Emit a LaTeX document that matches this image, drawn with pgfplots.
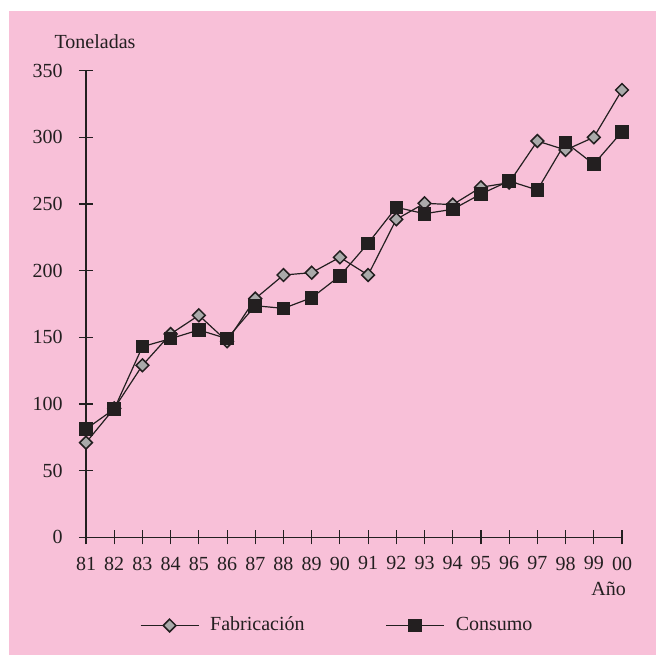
\documentclass[border=0pt]{standalone}
\usepackage{pgfplots}
\pgfplotsset{compat=1.18}
\usepackage{fontspec}
\setmainfont{Liberation Serif}
\definecolor{bgpink}{RGB}{248,192,216}
\definecolor{ink}{RGB}{35,31,32}
\definecolor{dgray}{RGB}{170,170,170}
\begin{document}
\begin{tikzpicture}
\fill[bgpink] (-38.5pt,-58.85pt) rectangle (285pt,263.15pt);
\begin{axis}[
  at={(0,0)}, anchor=origin,
  x=14.105pt, y=0.66667pt,
  xmin=0, xmax=19, ymin=0, ymax=350,
  axis lines=left,
  axis line style={-, ink, line width=0.55pt},
  every tick/.style={ink, line width=0.55pt},
  tick align=center,
  major tick length=7pt,
  xtick={0,...,19},
  xticklabels={81,82,83,84,85,86,87,88,89,90,91,92,93,94,95,96,97,98,99,00},
  ytick={0,50,...,350},
  font=\fontsize{10}{12}\selectfont,
  /pgf/number format/assume math mode=true,
  ticklabel style={font=\fontsize{10}{12}\selectfont, text=ink},
  xticklabel style={inner sep=1pt, yshift=-5pt},
  yticklabel style={inner sep=1pt, xshift=-7pt},
  xlabel={Año}, ylabel={Toneladas},
  every axis x label/.style={at={(axis description cs:1,0)}, anchor=base east, xshift=5.5pt, yshift=-28.85pt, text=ink},
  every axis y label/.style={at={(axis description cs:0,1)}, anchor=base, xshift=4.5pt, yshift=11.2pt, text=ink},
  clip=false,
  legend columns=2,
  legend style={draw=none, fill=none, at={(axis description cs:0.1007,-0.189)}, anchor=west, inner sep=0pt, outer sep=0pt, font=\fontsize{10}{12}\selectfont, text=ink,
    /tikz/every odd column/.append style={column sep=3.5pt},
    /tikz/every even column/.append style={column sep=38.5pt}},
  legend image code/.code={\draw[mark repeat=2,mark phase=2] plot coordinates {(0pt,0pt) (14.5pt,0pt) (29pt,0pt)};},
]
\addplot[ink, line width=0.6pt, mark=square*, mark size=2.25pt, mark options={rotate=45, fill=dgray, draw=ink, line width=0.75pt}]
coordinates {(0,71) (1,96.7) (2,129) (3,152.5) (4,166.5) (5,147) (6,179) (7,196.7) (8,198.5) (9,210) (10,196.7) (11,238.5) (12,250.5) (13,249.5) (14,262.5) (15,266) (16,297.2) (17,290.5) (18,300) (19,335.5)};
\addlegendentry{Fabricación}
\addplot[ink, line width=0.6pt, mark=square*, mark size=3.1pt, mark options={fill=ink, draw=ink}]
coordinates {(0,81.2) (1,96.2) (2,143) (3,149) (4,155.5) (5,149) (6,173.7) (7,171.7) (8,179.7) (9,196) (10,220.5) (11,247.5) (12,242.7) (13,246) (14,257.5) (15,267.2) (16,260.5) (17,296.2) (18,279.8) (19,304.2)};
\addlegendentry{Consumo}
\end{axis}
\pgfresetboundingbox
\useasboundingbox (-43pt,-58.85pt) rectangle (285pt,268.65pt);
\end{tikzpicture}
\end{document}
